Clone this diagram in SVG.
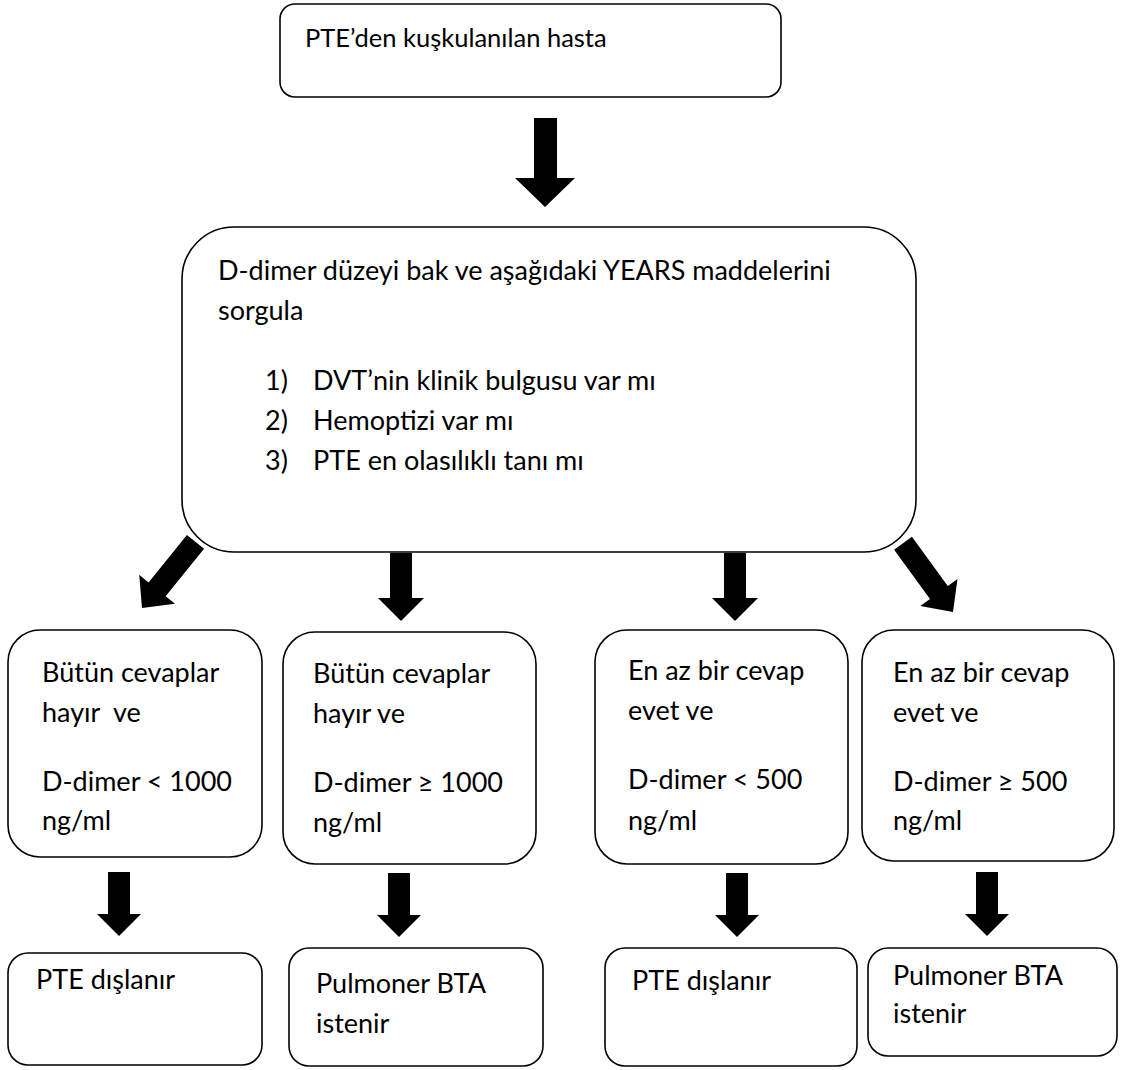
<svg xmlns="http://www.w3.org/2000/svg" width="1123" height="1070" viewBox="0 0 1123 1070">
<style>
.box{fill:#fff;stroke:#000;stroke-width:1.6}
.t{font-family:Lato,"Open Sans","Liberation Sans",sans-serif;fill:#000}
.t0{font-size:25.5px}
.t1{font-size:27px}
.t2{font-size:27px}
.arr{fill:#000}
</style>
<defs>
<path id="darr" d="M-11,-85 L11,-85 L11,-24 L23,-24 L0,0 L-23,-24 L-11,-24 Z"/>
</defs>
<rect width="1123" height="1070" fill="#fff"/>
<g id="connectors">
<polygon class="arr" points="534,118 557,118 557,178 575,178 545,207 515,178 534,178"/>
<use href="#darr" class="arr" transform="translate(142,608) rotate(39)"/>
<polygon class="arr" points="390,553 412,553 412,598 424,598 401,621 378,598 390,598"/>
<polygon class="arr" points="724,553 746,553 746,598 758,598 735,621 712,598 724,598"/>
<use href="#darr" class="arr" transform="translate(953,612) rotate(-36)"/>
<polygon class="arr" points="108,872 130,872 130,914 141,914 119,936 97,914 108,914"/>
<polygon class="arr" points="388,873 410,873 410,915 421,915 399,937 377,915 388,915"/>
<polygon class="arr" points="726,873 748,873 748,915 759,915 737,937 715,915 726,915"/>
<polygon class="arr" points="976,872 998,872 998,914 1009,914 987,936 965,914 976,914"/>
</g>
<g id="n-start">
<rect class="box" x="280" y="4" width="501" height="93" rx="15"/>
<text class="t t0" x="305" y="47">PTE’den kuşkulanılan hasta</text>
</g>
<g id="n-years">
<rect class="box" x="182" y="227" width="734" height="325" rx="52"/>
<text class="t t1" x="218" y="280">D-dimer düzeyi bak ve aşağıdaki YEARS maddelerini</text>
<text class="t t1" x="218" y="320">sorgula</text>
<text class="t t1" x="265" y="390">1)</text><text class="t t1" x="313" y="390">DVT’nin klinik bulgusu var mı</text>
<text class="t t1" x="265" y="430">2)</text><text class="t t1" x="313" y="430">Hemoptizi var mı</text>
<text class="t t1" x="265" y="470">3)</text><text class="t t1" x="313" y="470">PTE en olasılıklı tanı mı</text>
</g>
<g id="n-a">
<rect class="box" x="8" y="630" width="254" height="227" rx="32"/>
<text class="t t2" x="42" y="682">Bütün cevaplar</text>
<text class="t t2" x="42" y="722" xml:space="preserve">hayır  ve</text>
<text class="t t2" x="42" y="791">D-dimer &lt; 1000</text>
<text class="t t2" x="42" y="830">ng/ml</text>
</g>
<g id="n-b">
<rect class="box" x="283" y="632" width="253" height="232" rx="32"/>
<text class="t t2" x="313" y="683">Bütün cevaplar</text>
<text class="t t2" x="313" y="723">hayır ve</text>
<text class="t t2" x="313" y="792">D-dimer ≥ 1000</text>
<text class="t t2" x="313" y="832">ng/ml</text>
</g>
<g id="n-c">
<rect class="box" x="595" y="630" width="253" height="234" rx="32"/>
<text class="t t2" x="628" y="680">En az bir cevap</text>
<text class="t t2" x="628" y="720">evet ve</text>
<text class="t t2" x="628" y="789">D-dimer &lt; 500</text>
<text class="t t2" x="628" y="830">ng/ml</text>
</g>
<g id="n-d">
<rect class="box" x="862" y="630" width="252" height="231" rx="32"/>
<text class="t t2" x="893" y="682">En az bir cevap</text>
<text class="t t2" x="893" y="722">evet ve</text>
<text class="t t2" x="893" y="791">D-dimer ≥ 500</text>
<text class="t t2" x="893" y="830">ng/ml</text>
</g>
<g id="n-a2">
<rect class="box" x="8" y="953" width="254" height="112" rx="20"/>
<text class="t t2" x="36" y="989">PTE dışlanır</text>
</g>
<g id="n-b2">
<rect class="box" x="289" y="948" width="254" height="118" rx="20"/>
<text class="t t2" x="316" y="993">Pulmoner BTA</text>
<text class="t t2" x="316" y="1033">istenir</text>
</g>
<g id="n-c2">
<rect class="box" x="605" y="948" width="252" height="118" rx="20"/>
<text class="t t2" x="632" y="990">PTE dışlanır</text>
</g>
<g id="n-d2">
<rect class="box" x="868" y="948" width="249" height="108" rx="20"/>
<text class="t t2" x="893" y="985">Pulmoner BTA</text>
<text class="t t2" x="893" y="1023">istenir</text>
</g>
</svg>
